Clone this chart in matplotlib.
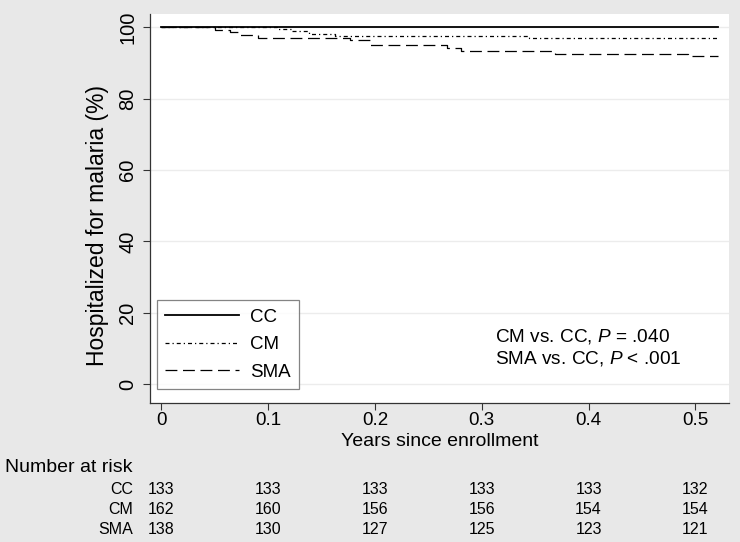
import matplotlib
matplotlib.use("Agg")
import matplotlib.pyplot as plt
import matplotlib.transforms as mtransforms

# ── Data ────────────────────────────────────────────────────────
cc_t  = [0, 0.521]
cc_s  = [100, 100]
cm_t  = [0, 0.108, 0.122, 0.138, 0.163, 0.344, 0.521]
cm_s  = [100, 99.4, 98.8, 98.1, 97.5, 96.9, 96.9]
sma_t = [0, 0.050, 0.064, 0.074, 0.090, 0.177, 0.195, 0.267, 0.281, 0.369, 0.493, 0.521]
sma_s = [100, 99.3, 98.6, 97.8, 97.1, 96.3, 95.0, 94.2, 93.4, 92.5, 91.8, 91.8]

groups     = ["CC", "CM", "SMA"]
risk_times = [0, 0.1, 0.2, 0.3, 0.4, 0.5]
risk_cc    = [133, 133, 133, 133, 133, 132]
risk_cm    = [162, 160, 156, 156, 154, 154]
risk_sma   = [138, 130, 127, 125, 123, 121]

# ── Style ───────────────────────────────────────────────────────
plt.rcParams.update({
    "font.family":       ["Liberation Sans", "DejaVu Sans"],
    "font.size":         13.5,
    "mathtext.fontset":  "custom",
    "mathtext.rm":       "Liberation Sans",
    "mathtext.it":       "Liberation Sans:italic",
})
BG = "#e8e8e8"

W, H = 740, 542
fig = plt.figure(figsize=(W / 100, H / 100), dpi=100, facecolor=BG)
L, R, T, B = 150, 729, 14, 402.6
ax = fig.add_axes([L / W, 1 - B / H, (R - L) / W, (B - T) / H])
ax.set_facecolor("white")

ax.step(cc_t, cc_s, where="post", color="black", lw=1.3, label="CC")
ax.step(cm_t, cm_s, where="post", color="black", lw=0.9,
        ls=(0, (3.2, 2.4, 1.0, 2.4)), label="CM")
ax.step(sma_t, sma_s, where="post", color="black", lw=0.9,
        ls=(0, (9.5, 4.5)), label="SMA")

ax.set_xlim(-0.0107, 0.5315)
ax.set_ylim(-5.13, 103.7)
ax.set_xticks(risk_times)
ax.set_xticklabels(["0", "0.1", "0.2", "0.3", "0.4", "0.5"])
ax.set_yticks([0, 20, 40, 60, 80, 100])
for s in ["top", "right"]:
    ax.spines[s].set_visible(False)
for s in ["left", "bottom"]:
    ax.spines[s].set_color("#333333")
    ax.spines[s].set_linewidth(0.9)
ax.tick_params(direction="out", length=5, width=0.8, color="#333333")
ax.tick_params(axis="x", pad=2, labelsize=13.5)
ax.tick_params(axis="y", pad=4, labelsize=14.5)
for lab in ax.get_yticklabels():
    lab.set_rotation(90)
    lab.set_va("center")
    lab.set_ha("right")
ax.yaxis.grid(True, color="#ececec", lw=1.0)
ax.set_axisbelow(True)

ax.set_xlabel("Years since enrollment", fontsize=14)
ax.xaxis.set_label_coords(0.5, -0.099)
ax.xaxis.label.set_va("center")
ax.set_ylabel("Hospitalized for malaria (%)", fontsize=16.5)
ax.yaxis.set_label_coords(-0.0915, 0.455)
ax.yaxis.label.set_va("center")

leg = ax.legend(loc="lower left", bbox_to_anchor=(0.012, 0.035),
                borderaxespad=0, frameon=True, fancybox=False,
                handlelength=3.9, handletextpad=0.6, labelspacing=0.55,
                borderpad=0.45, fontsize=13.5)
leg.get_frame().set_edgecolor("#666666")
leg.get_frame().set_linewidth(0.9)

ax.text(0.595, (B - 337) / (B - T), r"CM vs. CC, $\mathit{P}$ = .040",
        transform=ax.transAxes, ha="left", va="center", fontsize=13.7)
ax.text(0.595, (B - 359) / (B - T), r"SMA vs. CC, $\mathit{P}$ < .001",
        transform=ax.transAxes, ha="left", va="center", fontsize=13.7)

# ── Number at risk table ────────────────────────────────────────
fig.text(5 / W, 1 - 467 / H, "Number at risk", ha="left", va="center",
         fontsize=14)
trans = mtransforms.blended_transform_factory(ax.transData, fig.transFigure)
rows_y = [490, 510, 529]
for name, vals, yp in zip(groups, [risk_cc, risk_cm, risk_sma], rows_y):
    fig.text(133 / W, 1 - yp / H, name, ha="right", va="center", fontsize=11.5)
    for t, v in zip(risk_times, vals):
        fig.text(t, 1 - yp / H, str(v), transform=trans, ha="center",
                 va="center", fontsize=11.5)

fig.savefig("out.png", dpi=100, facecolor=BG)
